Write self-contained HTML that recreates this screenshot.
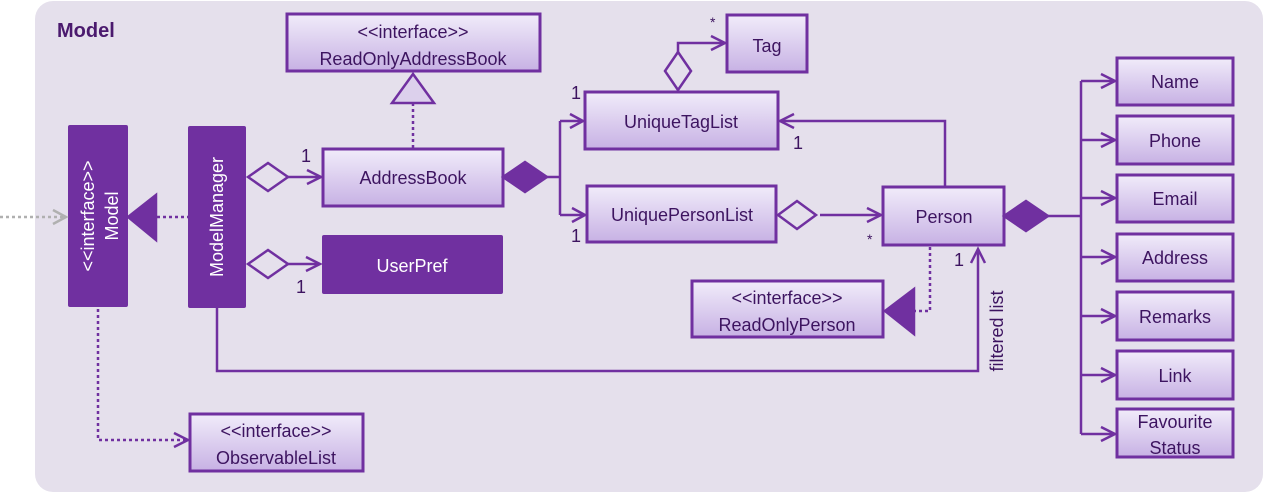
<!DOCTYPE html>
<html><head><meta charset="utf-8"><style>
html,body{margin:0;padding:0;background:#fff;}
svg{display:block;font-family:"Liberation Sans",sans-serif;}
</style></head><body>
<svg width="1265" height="494" viewBox="0 0 1265 494" xmlns="http://www.w3.org/2000/svg">
<defs>
<linearGradient id="g" x1="0" y1="0" x2="0" y2="1"><stop offset="0" stop-color="#f1ecfa"/><stop offset="1" stop-color="#c7b1e4"/></linearGradient>
</defs>
<rect x="35" y="1" width="1228" height="491" rx="18" fill="#e5e0ec"/>
<text x="57" y="37" font-size="20" font-weight="bold" fill="#4b1a6e">Model</text>

<g stroke="#7030a0" stroke-width="3" fill="url(#g)">
<rect x="287" y="14" width="253" height="57"/>
<rect x="727" y="15" width="80" height="57"/>
<rect x="585" y="92" width="193" height="57"/>
<rect x="323" y="149" width="180" height="57"/>
<rect x="587" y="186" width="189" height="56"/>
<rect x="883" y="187" width="121" height="58"/>
<rect x="692" y="281" width="191" height="56"/>
<rect x="1117" y="58" width="116" height="47"/>
<rect x="1117" y="116" width="116" height="48"/>
<rect x="1117" y="175" width="116" height="47"/>
<rect x="1117" y="234" width="116" height="47"/>
<rect x="1117" y="292" width="116" height="48"/>
<rect x="1117" y="351" width="116" height="48"/>
<rect x="1117" y="409" width="116" height="48"/>
<rect x="190" y="414" width="173" height="57"/>
</g>
<g fill="#7030a0">
<rect x="68" y="125" width="60" height="182" rx="2"/>
<rect x="188" y="126" width="58" height="182" rx="2"/>
<rect x="322" y="235" width="181" height="59" rx="2"/>
</g>

<g fill="none" stroke="#7030a0" stroke-width="2.5">
<path d="M0 217 H64" stroke="#b0b0b0" stroke-dasharray="3,3"/>
<path d="M53 210 L66 217 L53 224" stroke="#b0b0b0"/>
<path d="M157 217 H188" stroke-dasharray="3,3"/>
<path d="M413 103 V149" stroke-dasharray="3,3"/>
<path d="M288 177 H321"/><path d="M307 170 L321 177 L307 184"/>
<path d="M288 264 H320"/><path d="M306 257 L320 264 L306 271"/>
<path d="M547 177 H560 M560 121 V215 M560 121 H583 M560 215 H585"/>
<path d="M570 114 L583 121 L570 128"/><path d="M572 208 L585 215 L572 222"/>
<path d="M678 52 V43 H725"/><path d="M711 36 L725 43 L711 50"/>
<path d="M945 187 V121 H780"/><path d="M794 114 L780 121 L794 128"/>
<path d="M820 215 H881"/><path d="M867 208 L881 215 L867 222"/>
<path d="M1048 216 H1081 M1081 81 V434"/>
<path d="M1081 81 H1115 M1081 140 H1115 M1081 198 H1115 M1081 257 H1115 M1081 316 H1115 M1081 375 H1115 M1081 434 H1115"/>
<path d="M1101 74 L1115 81 L1101 88 M1101 133 L1115 140 L1101 147 M1101 191 L1115 198 L1101 205 M1101 250 L1115 257 L1101 264 M1101 309 L1115 316 L1101 323 M1101 368 L1115 375 L1101 382 M1101 427 L1115 434 L1101 441"/>
<path d="M930 247 V311 H914" stroke-dasharray="3,3"/>
<path d="M217 308 V371 H978 V249"/><path d="M971 263 L978 249 L985 263"/>
<path d="M98 309 V440 H188" stroke-dasharray="3,3"/>
<path d="M174 433 L188 440 L174 447"/>
</g>
<g stroke="#7030a0" stroke-width="2.5">
<path d="M128 217 L156 195 V240 Z" fill="#7030a0"/>
<path d="M885 311 L914 289 V334 Z" fill="#7030a0"/>
<path d="M413 74 L434 103 H392 Z" fill="#dcd0ec"/>
<path d="M248 177 L268 163 L288 177 L268 191 Z" fill="#e5e0ec"/>
<path d="M248 264 L268 250 L288 264 L268 278 Z" fill="#e5e0ec"/>
<path d="M778 215 L797 201 L816 215 L797 229 Z" fill="#e5e0ec"/>
<path d="M678 52 L691 71 L678 90 L665 71 Z" fill="#e5e0ec"/>
<path d="M503 177 L525 162 L547 177 L525 192 Z" fill="#7030a0"/>
<path d="M1004 216 L1026 201 L1048 216 L1026 231 Z" fill="#7030a0"/>
</g>

<g font-size="18" fill="#3d1460" text-anchor="middle">
<text x="413" y="38">&lt;&lt;interface&gt;&gt;</text>
<text x="413" y="65">ReadOnlyAddressBook</text>
<text x="767" y="52">Tag</text>
<text x="681" y="128">UniqueTagList</text>
<text x="413" y="184">AddressBook</text>
<text x="682" y="221">UniquePersonList</text>
<text x="944" y="223">Person</text>
<text x="787" y="304">&lt;&lt;interface&gt;&gt;</text>
<text x="787" y="331">ReadOnlyPerson</text>
<text x="1175" y="88">Name</text>
<text x="1175" y="147">Phone</text>
<text x="1175" y="205">Email</text>
<text x="1175" y="264">Address</text>
<text x="1175" y="323">Remarks</text>
<text x="1175" y="382">Link</text>
<text x="1175" y="428">Favourite</text>
<text x="1175" y="454">Status</text>
<text x="276" y="437">&lt;&lt;interface&gt;&gt;</text>
<text x="276" y="464">ObservableList</text>
<text x="412" y="272" fill="#fff">UserPref</text>
</g>
<g font-size="18" fill="#fff" text-anchor="middle">
<text transform="translate(94,216) rotate(-90)">&lt;&lt;interface&gt;&gt;</text>
<text transform="translate(118,216) rotate(-90)">Model</text>
<text transform="translate(223,217) rotate(-90)">ModelManager</text>
</g>
<text transform="translate(1003,331) rotate(-90)" font-size="18" fill="#3d1460" text-anchor="middle">filtered list</text>
<g font-size="18" fill="#3d1460">
<text x="301" y="162">1</text>
<text x="296" y="293">1</text>
<text x="571" y="99">1</text>
<text x="710" y="27" font-size="14">*</text>
<text x="793" y="149">1</text>
<text x="571" y="242">1</text>
<text x="867" y="244" font-size="14">*</text>
<text x="954" y="266">1</text>
</g>
</svg>
</body></html>
